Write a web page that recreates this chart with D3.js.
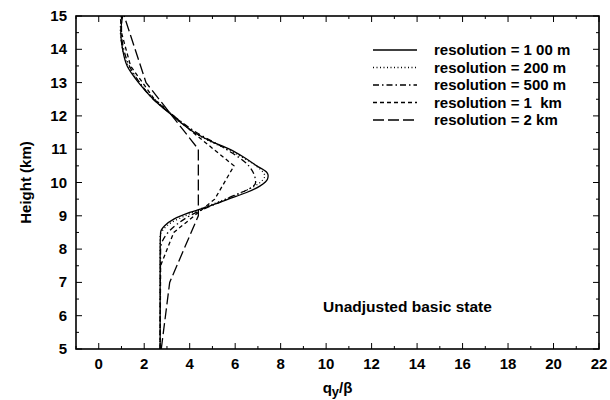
<!DOCTYPE html>
<html><head><meta charset="utf-8">
<script src="https://cdn.jsdelivr.net/npm/d3@7"></script>
<style>body{margin:0;background:#fff}svg{display:block}text{white-space:pre}</style>
</head><body><svg id="c" width="610" height="400"></svg>
<script>
// ---- data ----
const xTicks = [0,2,4,6,8,10,12,14,16,18,20,22];
const yTicks = [5,6,7,8,9,10,11,12,13,14,15];
const seriesNames = ["resolution = 1 00 m","resolution = 200 m","resolution = 500 m","resolution = 1  km","resolution = 2 km"];
const h100 = [5.0,8.0,8.5,8.7,8.9,9.1,9.3,9.5,9.7,9.9,10.1,10.2,10.3,10.5,10.75,11.0,11.25,11.5,11.75,12.0,12.5,13.0,13.5,14.0,14.5,15.0];
const v100 = [2.70,2.70,2.72,2.9,3.3,4.0,4.9,5.7,6.5,7.1,7.42,7.45,7.4,6.95,6.4,5.75,4.9,4.2,3.7,3.25,2.4,1.75,1.25,1.05,0.97,1.05];
const h200 = [5.0,8.4,8.6,8.8,9.0,9.2,9.4,9.6,9.8,10.0,10.2,10.4,10.6,10.8,11.0,11.2,11.4,11.6,11.8,12.0,12.2,12.4,12.6,12.8,13.0,13.4,13.8,14.2,14.6,15.0];
const v200 = [2.70,2.70,2.85,3.2,3.8,4.45,5.2,5.95,6.6,7.1,7.3,7.1,6.7,6.2,5.65,5.0,4.45,4.0,3.6,3.25,2.95,2.62,2.3,2.02,1.8,1.38,1.12,1.0,0.95,1.0];
const h500 = [5.0,8.0,8.5,9.0,9.5,10.0,10.5,11.0,11.5,12.0,12.5,13.0,13.5,14.0,14.5,15.0];
const v500 = [2.70,2.72,3.05,4.0,5.6,6.9,6.6,5.6,4.3,3.3,2.4,1.8,1.35,1.1,1.0,1.0];
const h1k = [5.0,7.5,8.5,9.5,10.5,11.5,12.5,13.5,14.5,15.0];
const v1k = [2.70,2.72,3.3,5.1,5.95,4.15,2.45,1.4,1.0,0.95];
const h2k = [5,7,9,11,13,15];
const v2k = [2.75,3.12,4.38,4.38,2.08,1.12];

const series = [
  {name:seriesNames[0], h:h100, v:v100, dash:null, curve:d3.curveMonotoneY},
  {name:seriesNames[1], h:h200, v:v200, dash:"1,2.5", curve:d3.curveMonotoneY},
  {name:seriesNames[2], h:h500, v:v500, dash:"6,3,1.5,3", curve:d3.curveMonotoneY},
  {name:seriesNames[3], h:h1k, v:v1k, dash:"4,3", curve:d3.curveLinear},
  {name:seriesNames[4], h:h2k, v:v2k, dash:"11,4", curve:d3.curveLinear}
];

const svg = d3.select("#c");
const L=76,R=599,T=16,B=349;
const x = d3.scaleLinear().domain([-1,22]).range([L,R]);
const y = d3.scaleLinear().domain([5,15]).range([B,T]);
const font = "Liberation Sans, Arial, Helvetica, sans-serif";

// frame
svg.append("rect").attr("x",L).attr("y",T).attr("width",R-L).attr("height",B-T)
  .attr("fill","none").attr("stroke","#000").attr("stroke-width",1.6);

// ticks (inward on all sides)
const xMinor = d3.range(-1,22.01,1);
const yMinor = d3.range(5,15.01,0.5);
const tg = svg.append("g").attr("stroke","#000").attr("stroke-width",1);
xMinor.forEach(v=>{
  const len = (Math.round(v)%2===0)?6:3;
  tg.append("line").attr("x1",x(v)).attr("x2",x(v)).attr("y1",B).attr("y2",B-len);
  tg.append("line").attr("x1",x(v)).attr("x2",x(v)).attr("y1",T).attr("y2",T+len);
});
yMinor.forEach(v=>{
  const len = (Math.abs(v-Math.round(v))<1e-6)?6:3;
  tg.append("line").attr("y1",y(v)).attr("y2",y(v)).attr("x1",L).attr("x2",L+len);
  tg.append("line").attr("y1",y(v)).attr("y2",y(v)).attr("x1",R).attr("x2",R-len);
});

// tick labels
svg.append("g").selectAll("text").data(xTicks).join("text")
  .attr("x",d=>x(d)).attr("y",369).attr("text-anchor","middle")
  .attr("font-family",font).attr("font-weight","bold").attr("font-size",15).text(d=>d);
svg.append("g").selectAll("text").data(yTicks).join("text")
  .attr("x",67).attr("y",d=>y(d)+5).attr("text-anchor","end")
  .attr("font-family",font).attr("font-weight","bold").attr("font-size",15).text(d=>d);

// axis titles
const xt = svg.append("text").attr("x",(L+R)/2).attr("y",393).attr("text-anchor","middle")
  .attr("font-family",font).attr("font-weight","bold").attr("font-size",15);
xt.append("tspan").text("q");
xt.append("tspan").attr("dy",3).attr("font-size",13).text("y");
xt.append("tspan").attr("dy",-3).text("/β");
svg.append("text").attr("transform",`translate(31,${(T+B)/2}) rotate(-90)`)
  .attr("text-anchor","middle").attr("font-family",font).attr("font-weight","bold")
  .attr("font-size",15).text("Height (km)");

// curves
const g = svg.append("g");
series.forEach(s=>{
  const pts = s.h.map((h,i)=>[s.v[i],h]);
  const line = d3.line().x(d=>x(d[0])).y(d=>y(d[1])).curve(s.curve);
  g.append("path").attr("d",line(pts)).attr("fill","none").attr("stroke","#000")
    .attr("stroke-width",1.3).attr("stroke-dasharray",s.dash);
});

// legend
const lg = svg.append("g");
series.forEach((s,i)=>{
  const yy = 50 + i*17.5;
  lg.append("line").attr("x1",373).attr("x2",417).attr("y1",yy).attr("y2",yy)
    .attr("stroke","#000").attr("stroke-width",1.3).attr("stroke-dasharray",s.dash);
  lg.append("text").attr("x",434).attr("y",yy+5).attr("font-family",font)
    .attr("font-size",15).attr("font-weight","bold").text(s.name);
});

svg.append("text").attr("x",323).attr("y",312).attr("font-family",font)
  .attr("font-size",15.5).attr("font-weight","bold").text("Unadjusted basic state");
</script></body></html>
